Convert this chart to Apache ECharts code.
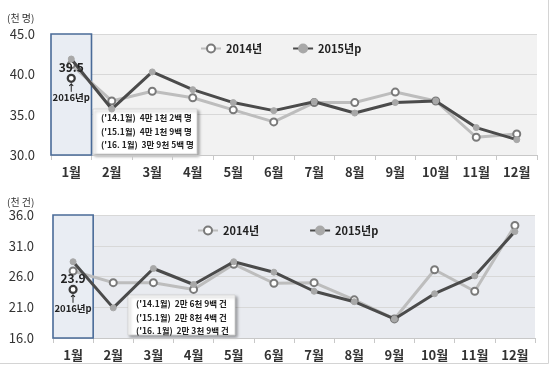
<!DOCTYPE html>
<html><head><meta charset="utf-8">
<script src="https://cdn.jsdelivr.net/npm/echarts@6/dist/echarts.min.js"></script>
<style>html,body{margin:0;padding:0;background:#fff}#c{width:550px;height:366px}</style>
</head><body><div id="c"></div>
<script>
// ---- data ----
const months = ['1월','2월','3월','4월','5월','6월','7월','8월','9월','10월','11월','12월'];
// top chart (천 명)
const top2014 = [41.2, 36.7, 37.9, 37.1, 35.6, 34.1, 36.5, 36.5, 37.8, 36.7, 32.2, 32.6];
const top2015 = [41.9, 35.7, 40.3, 38.1, 36.5, 35.5, 36.6, 35.2, 36.5, 36.7, 33.4, 31.9];
const top2016 = [39.5];
const topAxis = {min: 30, max: 45, interval: 5};
const topNotes = ["('14.1월)  4만 1천 2백 명", "('15.1월)  4만 1천 9백 명", "('16. 1월)  3만 9천 5백 명"];
// bottom chart (천 건)
const bot2014 = [26.9, 25.0, 25.0, 23.9, 28.0, 24.9, 25.0, 22.2, 19.1, 27.1, 23.6, 34.3];
const bot2015 = [28.4, 20.9, 27.3, 24.7, 28.4, 26.7, 23.6, 21.9, 19.1, 23.2, 26.1, 33.3];
const bot2016 = [23.9];
const botAxis = {min: 16, max: 36, interval: 5};
const botNotes = ["('14.1월)  2만 6천 9백 건", "('15.1월)  2만 8천 4백 건", "('16. 1월)  2만 3천 9백 건"];
const names = ['2014년', '2015년p'];

const FONT = '"Noto Sans CJK KR", "Noto Sans", sans-serif';
const chart = echarts.init(document.getElementById('c'));

function axisPair(i, ax, gridBg) {
  return {
    x: {type: 'category', gridIndex: i, data: months, boundaryGap: true,
        axisLine: {lineStyle: {color: '#c8c8c8'}},
        axisTick: {show: true, alignWithLabel: false, lineStyle: {color: '#c8c8c8'}},
        axisLabel: {fontFamily: FONT, fontSize: 13, color: '#333', fontWeight: 'bold', margin: 11}},
    y: {type: 'value', gridIndex: i, min: ax.min, max: ax.max, interval: ax.interval,
        axisLine: {show: false}, axisTick: {show: false},
        splitLine: {lineStyle: {color: '#d8d8d8', width: 1}},
        axisLabel: {fontFamily: FONT, fontSize: 13, color: '#333', margin: i === 0 ? 16 : 19,
                    formatter: v => v.toFixed(1)}}
  };
}
const a0 = axisPair(0, topAxis), a1 = axisPair(1, botAxis);

function seriesSet(i, d14, d15, d16) {
  return [
    {name: names[0], type: 'line', xAxisIndex: i, yAxisIndex: i, data: d14,
     symbol: 'circle', symbolSize: 7, z: 3,
     lineStyle: {color: '#bdbdbd', width: 3},
     itemStyle: {color: '#ffffff', borderColor: '#7a7a7a', borderWidth: 2}},
    {name: names[1], type: 'line', xAxisIndex: i, yAxisIndex: i, data: d15,
     symbol: 'circle', symbolSize: 6, z: 4,
     lineStyle: {color: '#4b4b4b', width: 3},
     itemStyle: {color: '#a8a8a8', borderColor: '#a8a8a8', borderWidth: 1}},
    {name: '2016년p', type: 'line', xAxisIndex: i, yAxisIndex: i, data: d16,
     symbol: 'circle', symbolSize: 7, z: 5,
     itemStyle: {color: '#ffffff', borderColor: '#3a3a3a', borderWidth: 2.2},
     label: {show: true, position: 'top', distance: 0, fontFamily: FONT, fontSize: 12,
             fontWeight: 'bold', color: '#222', formatter: p => p.value.toFixed(1)},
     markPoint: {symbol: 'circle', symbolSize: 0,
       data: [{coord: [0, d16[0]]}],
       label: {show: true, position: 'bottom', distance: 4, fontFamily: FONT, fontSize: 9.5,
               fontWeight: 'bold', color: '#222', lineHeight: 10,
               formatter: '↑\n2016년p'}}}
  ];
}

const legendBase = {
  data: names, itemWidth: 20, itemHeight: 10, itemGap: 30,
  textStyle: {fontFamily: FONT, fontSize: 11, fontWeight: 'bold', color: '#222'}
};

const option = {
  animation: false,
  backgroundColor: '#ffffff',
  grid: [
    {left: 51, right: 13, top: 34, height: 121, show: true, backgroundColor: '#f2f2f2', borderWidth: 0},
    {left: 53, right: 15, top: 215, height: 123, show: true, backgroundColor: '#e9ebf0', borderWidth: 0}
  ],
  legend: [
    Object.assign({}, legendBase, {left: 195, top: 38, itemGap: 30}),
    Object.assign({}, legendBase, {left: 192, top: 220, itemGap: 50})
  ],
  xAxis: [a0.x, a1.x],
  yAxis: [a0.y, a1.y],
  series: seriesSet(0, top2014, top2015, top2016).concat(seriesSet(1, bot2014, bot2015, bot2016))
};
chart.setOption(option);

function highlight(i, ax) {
  const f = {xAxisIndex: i, yAxisIndex: i};
  const p0 = chart.convertToPixel(f, [0, ax.max]);
  const p1 = chart.convertToPixel(f, [1, ax.min]);
  const band = p1[0] - p0[0];
  return {type: 'rect', z: 1, silent: true,
    shape: {x: p0[0] - band / 2, y: p0[1], width: band, height: p1[1] - p0[1]},
    style: {fill: '#e9edf3', stroke: '#4a6b98', lineWidth: 1.6}};
}
function noteBox(x, y, w, h, lines) {
  const children = [{type: 'rect', shape: {x: 0, y: 0, width: w, height: h},
    style: {fill: '#ffffff', stroke: '#d0d0d0', lineWidth: 0.8,
            shadowBlur: 3, shadowOffsetX: 2, shadowOffsetY: 2, shadowColor: 'rgba(0,0,0,0.35)'}}];
  lines.forEach((t, k) => children.push({type: 'text', x: 8, y: 9 + k * 13.5,
    style: {text: t, fontFamily: FONT, fontSize: 8.5, fontWeight: 'bold', fill: '#222',
            verticalAlign: 'middle'}}));
  return {type: 'group', x: x, y: y, z: 10, children: children};
}
chart.setOption({graphic: [
  highlight(0, topAxis), highlight(1, botAxis),
  noteBox(93, 109, 104, 45, topNotes),
  noteBox(128, 295, 107, 40, botNotes),
  {type: 'text', x: 7, y: 13, style: {text: '(천 명)', fontFamily: FONT, fontSize: 10, fill: '#333'}},
  {type: 'text', x: 7, y: 197, style: {text: '(천 건)', fontFamily: FONT, fontSize: 10, fill: '#333'}},
  {type: 'line', shape: {x1: 548.5, y1: 0, x2: 548.5, y2: 363.5}, style: {stroke: '#d4d4d4', lineWidth: 1}},
  {type: 'line', shape: {x1: 0, y1: 363.5, x2: 548.5, y2: 363.5}, style: {stroke: '#d4d4d4', lineWidth: 1}}
]});
</script>
</body></html>
